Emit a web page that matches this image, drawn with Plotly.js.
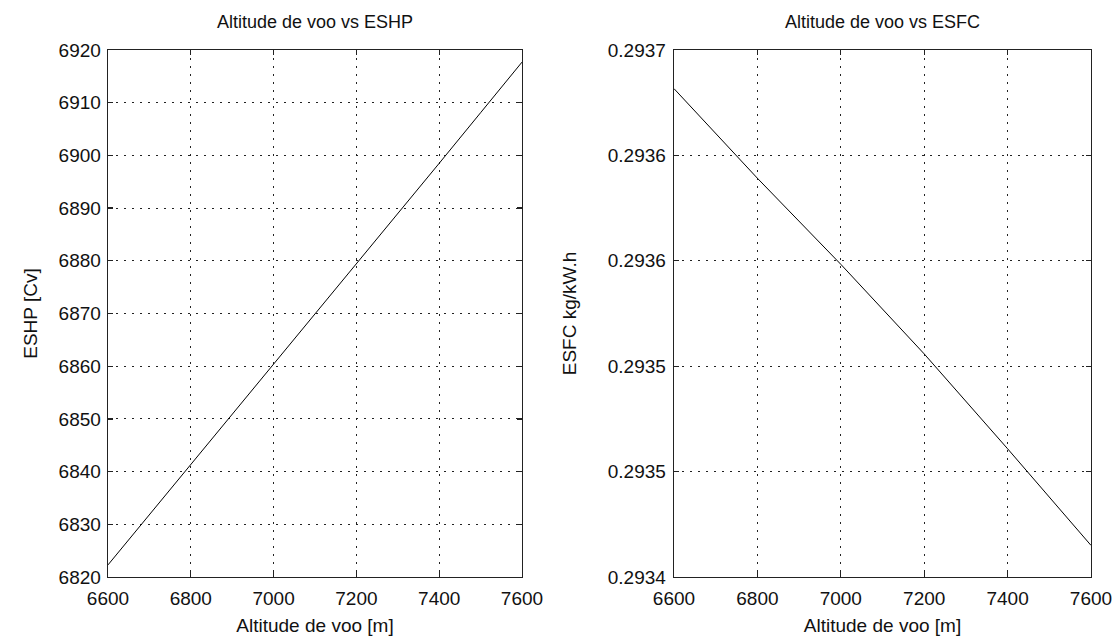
<!DOCTYPE html>
<html>
<head>
<meta charset="utf-8">
<script src="https://cdn.plot.ly/plotly-3.0.1.min.js"></script>
<style>html,body{margin:0;padding:0;background:#fff;}#chart{width:1118px;height:642px;}</style>
</head>
<body>
<div id="chart"></div>
<script>
// Data
const altitude = [6600, 6700, 6800, 6900, 7000, 7100, 7200, 7300, 7400, 7500, 7600];
const eshp = [6822.3, 6831.8, 6841.3, 6850.9, 6860.4, 6869.9, 6879.4, 6888.9, 6898.5, 6908.1, 6917.7];
const esfcAlt = [6600, 6800, 7000, 7200, 7400, 7600];
const esfc = [0.293678, 0.293627, 0.293578, 0.293527, 0.293473, 0.293418];

const xTicks = [6600, 6800, 7000, 7200, 7400, 7600];
const eshpTicks = [6820, 6830, 6840, 6850, 6860, 6870, 6880, 6890, 6900, 6910, 6920];
const esfcTickVals = [0.2934, 0.29346, 0.29352, 0.29358, 0.29364, 0.2937];
const esfcTickText = ['0.2934', '0.2935', '0.2935', '0.2936', '0.2936', '0.2937'];

const titles = ['Altitude de voo vs ESHP', 'Altitude de voo vs ESFC'];
const xTitle = 'Altitude de voo [m]';
const yTitles = ['ESHP [Cv]', 'ESFC kg/kW.h'];

const W = 1118, H = 642;
const fam = 'Liberation Sans, Arial, sans-serif';
const fnt = {family: fam, size: 19, color: '#111'};
const tfnt = {family: fam, size: 18, color: '#111'};
const plotTop = 1 - 50 / H, plotBot = 1 - 577 / H;

function axisCommon() {
  return {
    showline: true, linecolor: '#222', linewidth: 1.3, mirror: 'allticks',
    ticks: 'inside', ticklen: 5, tickcolor: '#222', tickwidth: 1.3,
    showgrid: true, gridcolor: '#222', griddash: '1.5px,6.5px', gridwidth: 1,
    zeroline: false, tickfont: fnt, automargin: false
  };
}

const traces = [
  {x: altitude, y: eshp, type: 'scatter', mode: 'lines', line: {color: '#000', width: 1}, xaxis: 'x', yaxis: 'y', hoverinfo: 'skip'},
  {x: esfcAlt, y: esfc, type: 'scatter', mode: 'lines', line: {color: '#000', width: 1}, xaxis: 'x2', yaxis: 'y2', hoverinfo: 'skip'}
];

const layout = {
  width: W, height: H,
  margin: {l: 0, r: 0, t: 0, b: 0},
  paper_bgcolor: '#fff', plot_bgcolor: '#fff',
  showlegend: false,
  font: fnt,
  xaxis: Object.assign(axisCommon(), {domain: [108 / W, 522 / W], range: [6600, 7600], tickvals: xTicks, ticktext: xTicks.map(String), ticklabelstandoff: 4, title: {text: xTitle, font: fnt, standoff: 10}, anchor: 'y'}),
  yaxis: Object.assign(axisCommon(), {domain: [plotBot, plotTop], range: [6820, 6920], tickvals: eshpTicks, ticktext: eshpTicks.map(String), ticklabelstandoff: 2, title: {text: yTitles[0], font: fnt, standoff: 16}, anchor: 'x'}),
  xaxis2: Object.assign(axisCommon(), {domain: [674 / W, 1091 / W], range: [6600, 7600], tickvals: xTicks, ticktext: xTicks.map(String), ticklabelstandoff: 4, title: {text: xTitle, font: fnt, standoff: 10}, anchor: 'y2'}),
  yaxis2: Object.assign(axisCommon(), {domain: [plotBot, plotTop], range: [0.2934, 0.2937], tickvals: esfcTickVals, ticktext: esfcTickText, ticklabelstandoff: 3, title: {text: yTitles[1], font: fnt, standoff: 26}, anchor: 'x2'}),
  annotations: [
    {text: titles[0], xref: 'paper', yref: 'paper', x: (108 + 522) / 2 / W, y: 1 - 22 / H, yanchor: 'middle', xanchor: 'center', showarrow: false, font: tfnt},
    {text: titles[1], xref: 'paper', yref: 'paper', x: (674 + 1091) / 2 / W, y: 1 - 22 / H, yanchor: 'middle', xanchor: 'center', showarrow: false, font: tfnt}
  ]
};

Plotly.newPlot('chart', traces, layout, {staticPlot: true, displayModeBar: false});
</script>
</body>
</html>
